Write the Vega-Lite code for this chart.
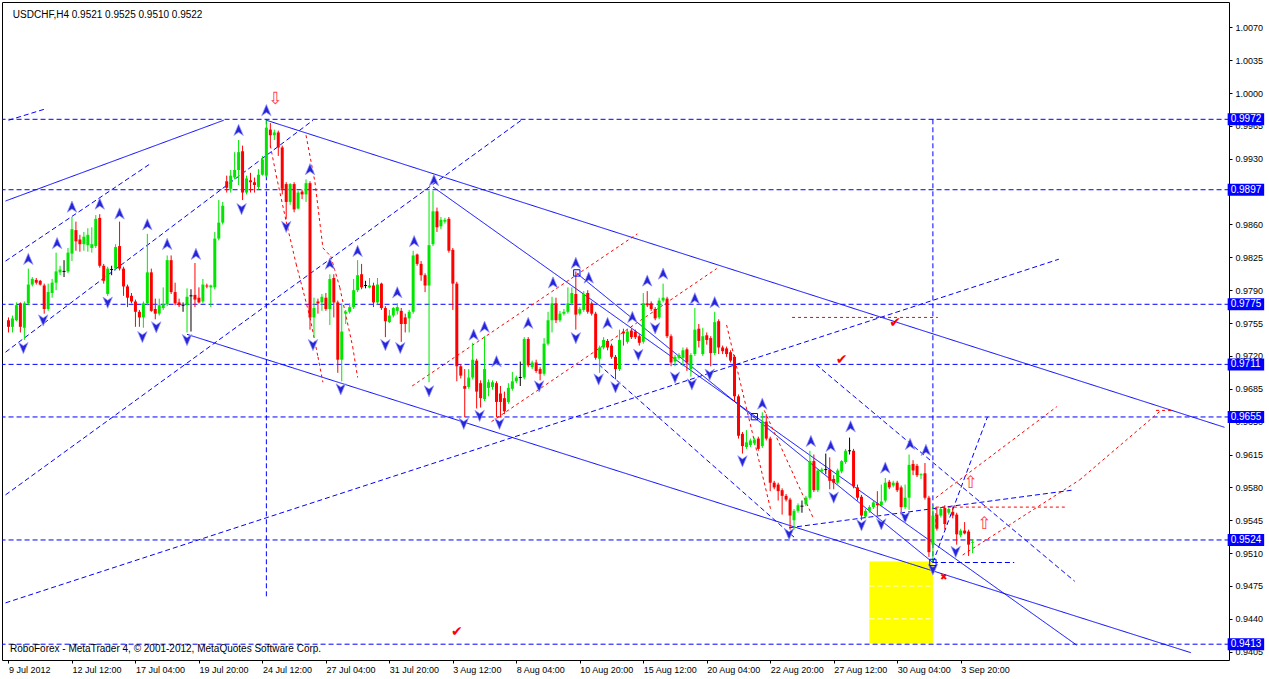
{
"$schema":"https://vega.github.io/schema/vega-lite/v6.json",
"width":1227,"height":658,
"autosize":{"type":"none"},
"padding":{"left":2,"top":2,"right":40,"bottom":19},
"background":"#ffffff",
"config":{"view":{"stroke":"#000000","strokeWidth":1},"axis":{"labelFont":"Liberation Sans","labelFontSize":9,"labelColor":"#000000","tickColor":"#000000","domain":false,"grid":false,"tickSize":3}},
"datasets":{
"candles":[
{"i":0,"o":0.9758,"h":0.9761,"l":0.9745,"c":0.9751},{"i":1,"o":0.9751,"h":0.9763,"l":0.9745,"c":0.9760},{"i":2,"o":0.9758,"h":0.9777,"l":0.9757,"c":0.9774},{"i":3,"o":0.9776,"h":0.9777,"l":0.9745,"c":0.9751},{"i":4,"o":0.9750,"h":0.9778,"l":0.9737,"c":0.9776},
{"i":5,"o":0.9776,"h":0.9813,"l":0.9774,"c":0.9796},{"i":6,"o":0.9796,"h":0.9804,"l":0.9794,"c":0.9802},{"i":7,"o":0.9801,"h":0.9803,"l":0.9796,"c":0.9798},{"i":8,"o":0.9800,"h":0.9801,"l":0.9795,"c":0.9796},{"i":9,"o":0.9795,"h":0.9797,"l":0.9765,"c":0.9770},
{"i":10,"o":0.9770,"h":0.9797,"l":0.9768,"c":0.9788},{"i":11,"o":0.9787,"h":0.9802,"l":0.9782,"c":0.9798},{"i":12,"o":0.9798,"h":0.9830,"l":0.9790,"c":0.9810},{"i":13,"o":0.9809,"h":0.9816,"l":0.9806,"c":0.9812},{"i":14,"o":0.9810,"h":0.9822,"l":0.9804,"c":0.9810},
{"i":15,"o":0.9810,"h":0.9835,"l":0.9808,"c":0.9830},{"i":16,"o":0.9829,"h":0.9868,"l":0.9821,"c":0.9855},{"i":17,"o":0.9854,"h":0.9863,"l":0.9832,"c":0.9842},{"i":18,"o":0.9844,"h":0.9849,"l":0.9831,"c":0.9839},{"i":19,"o":0.9839,"h":0.9852,"l":0.9832,"c":0.9847},
{"i":20,"o":0.9838,"h":0.9856,"l":0.9831,"c":0.9849},{"i":21,"o":0.9835,"h":0.9857,"l":0.9830,"c":0.9839},{"i":22,"o":0.9837,"h":0.9870,"l":0.9835,"c":0.9866},{"i":23,"o":0.9867,"h":0.9871,"l":0.9814,"c":0.9816},{"i":24,"o":0.9816,"h":0.9818,"l":0.9797,"c":0.9800},
{"i":25,"o":0.9786,"h":0.9815,"l":0.9784,"c":0.9813},{"i":26,"o":0.9812,"h":0.9816,"l":0.9806,"c":0.9812},{"i":27,"o":0.9813,"h":0.9839,"l":0.9811,"c":0.9836},{"i":28,"o":0.9837,"h":0.9863,"l":0.9811,"c":0.9813},{"i":29,"o":0.9813,"h":0.9815,"l":0.9784,"c":0.9794},
{"i":30,"o":0.9794,"h":0.9796,"l":0.9772,"c":0.9782},{"i":31,"o":0.9784,"h":0.9787,"l":0.9776,"c":0.9778},{"i":32,"o":0.9778,"h":0.9780,"l":0.9751,"c":0.9767},{"i":33,"o":0.9767,"h":0.9769,"l":0.9751,"c":0.9761},{"i":34,"o":0.9761,"h":0.9778,"l":0.9750,"c":0.9776},
{"i":35,"o":0.9776,"h":0.9850,"l":0.9774,"c":0.9809},{"i":36,"o":0.9809,"h":0.9813,"l":0.9767,"c":0.9768},{"i":37,"o":0.9770,"h":0.9781,"l":0.9759,"c":0.9765},{"i":38,"o":0.9765,"h":0.9781,"l":0.9763,"c":0.9774},{"i":39,"o":0.9771,"h":0.9793,"l":0.9769,"c":0.9775},
{"i":40,"o":0.9775,"h":0.9827,"l":0.9773,"c":0.9822},{"i":41,"o":0.9822,"h":0.9827,"l":0.9786,"c":0.9788},{"i":42,"o":0.9788,"h":0.9798,"l":0.9774,"c":0.9776},{"i":43,"o":0.9777,"h":0.9781,"l":0.9772,"c":0.9774},{"i":44,"o":0.9774,"h":0.9777,"l":0.9767,"c":0.9774},
{"i":45,"o":0.9774,"h":0.9792,"l":0.9745,"c":0.9783},{"i":46,"o":0.9784,"h":0.9791,"l":0.9746,"c":0.9784},{"i":47,"o":0.9785,"h":0.9819,"l":0.9772,"c":0.9780},{"i":48,"o":0.9782,"h":0.9793,"l":0.9776,"c":0.9777},{"i":49,"o":0.9778,"h":0.9802,"l":0.9776,"c":0.9796},
{"i":50,"o":0.9795,"h":0.9797,"l":0.9792,"c":0.9794},{"i":51,"o":0.9793,"h":0.9796,"l":0.9772,"c":0.9795},{"i":52,"o":0.9793,"h":0.9852,"l":0.9791,"c":0.9845},{"i":53,"o":0.9845,"h":0.9886,"l":0.9843,"c":0.9862},{"i":54,"o":0.9862,"h":0.9884,"l":0.9860,"c":0.9880},
{"i":55,"o":0.9906,"h":0.9912,"l":0.9894,"c":0.9899},{"i":56,"o":0.9898,"h":0.9918,"l":0.9894,"c":0.9912},{"i":57,"o":0.9910,"h":0.9937,"l":0.9908,"c":0.9918},{"i":58,"o":0.9918,"h":0.9950,"l":0.9902,"c":0.9937},{"i":59,"o":0.9938,"h":0.9944,"l":0.9886,"c":0.9894},
{"i":60,"o":0.9894,"h":0.9912,"l":0.9892,"c":0.9909},{"i":61,"o":0.9907,"h":0.9915,"l":0.9894,"c":0.9905},{"i":62,"o":0.9905,"h":0.9910,"l":0.9894,"c":0.9902},{"i":63,"o":0.9900,"h":0.9919,"l":0.9897,"c":0.9913},{"i":64,"o":0.9913,"h":0.9933,"l":0.9912,"c":0.9929},
{"i":65,"o":0.9912,"h":0.9971,"l":0.9910,"c":0.9963},{"i":66,"o":0.9961,"h":0.9968,"l":0.9942,"c":0.9955},{"i":67,"o":0.9955,"h":0.9961,"l":0.9950,"c":0.9958},{"i":68,"o":0.9958,"h":0.9960,"l":0.9933,"c":0.9942},{"i":69,"o":0.9942,"h":0.9944,"l":0.9892,"c":0.9898},
{"i":70,"o":0.9903,"h":0.9905,"l":0.9866,"c":0.9884},{"i":71,"o":0.9884,"h":0.9904,"l":0.9881,"c":0.9903},{"i":72,"o":0.9903,"h":0.9905,"l":0.9873,"c":0.9876},{"i":73,"o":0.9877,"h":0.9896,"l":0.9876,"c":0.9894},{"i":74,"o":0.9895,"h":0.9897,"l":0.9887,"c":0.9892},
{"i":75,"o":0.9892,"h":0.9908,"l":0.9884,"c":0.9904},{"i":76,"o":0.9904,"h":0.9906,"l":0.9748,"c":0.9761},{"i":77,"o":0.9761,"h":0.9782,"l":0.9740,"c":0.9771},{"i":78,"o":0.9778,"h":0.9781,"l":0.9765,"c":0.9776},{"i":79,"o":0.9777,"h":0.9786,"l":0.9768,"c":0.9783},
{"i":80,"o":0.9782,"h":0.9787,"l":0.9768,"c":0.9770},{"i":81,"o":0.9770,"h":0.9807,"l":0.9753,"c":0.9802},{"i":82,"o":0.9803,"h":0.9807,"l":0.9761,"c":0.9777},{"i":83,"o":0.9777,"h":0.9779,"l":0.9702,"c":0.9716},{"i":84,"o":0.9716,"h":0.9776,"l":0.9693,"c":0.9746},
{"i":85,"o":0.9765,"h":0.9769,"l":0.9754,"c":0.9767},{"i":86,"o":0.9767,"h":0.9776,"l":0.9765,"c":0.9772},{"i":87,"o":0.9772,"h":0.9802,"l":0.9770,"c":0.9790},{"i":88,"o":0.9790,"h":0.9822,"l":0.9788,"c":0.9806},{"i":89,"o":0.9807,"h":0.9818,"l":0.9791,"c":0.9793},
{"i":90,"o":0.9795,"h":0.9800,"l":0.9792,"c":0.9795},{"i":91,"o":0.9793,"h":0.9803,"l":0.9792,"c":0.9795},{"i":92,"o":0.9795,"h":0.9798,"l":0.9772,"c":0.9777},{"i":93,"o":0.9777,"h":0.9803,"l":0.9775,"c":0.9796},{"i":94,"o":0.9797,"h":0.9798,"l":0.9769,"c":0.9771},
{"i":95,"o":0.9771,"h":0.9773,"l":0.9740,"c":0.9757},{"i":96,"o":0.9756,"h":0.9769,"l":0.9755,"c":0.9763},{"i":97,"o":0.9763,"h":0.9772,"l":0.9761,"c":0.9771},{"i":98,"o":0.9768,"h":0.9776,"l":0.9764,"c":0.9772},{"i":99,"o":0.9768,"h":0.9771,"l":0.9735,"c":0.9754},
{"i":100,"o":0.9761,"h":0.9765,"l":0.9745,"c":0.9754},{"i":101,"o":0.9760,"h":0.9769,"l":0.9745,"c":0.9767},{"i":102,"o":0.9767,"h":0.9832,"l":0.9765,"c":0.9827},{"i":103,"o":0.9828,"h":0.9829,"l":0.9816,"c":0.9818},{"i":104,"o":0.9818,"h":0.9821,"l":0.9800,"c":0.9806},
{"i":105,"o":0.9806,"h":0.9808,"l":0.9788,"c":0.9795},{"i":106,"o":0.9795,"h":0.9896,"l":0.9692,"c":0.9838},{"i":107,"o":0.9839,"h":0.9896,"l":0.9837,"c":0.9874},{"i":108,"o":0.9874,"h":0.9878,"l":0.9852,"c":0.9857},{"i":109,"o":0.9858,"h":0.9868,"l":0.9855,"c":0.9865},
{"i":110,"o":0.9863,"h":0.9867,"l":0.9861,"c":0.9865},{"i":111,"o":0.9866,"h":0.9868,"l":0.9830,"c":0.9832},{"i":112,"o":0.9833,"h":0.9835,"l":0.9769,"c":0.9797},{"i":113,"o":0.9797,"h":0.9799,"l":0.9693,"c":0.9709},{"i":114,"o":0.9709,"h":0.9711,"l":0.9696,"c":0.9699},
{"i":115,"o":0.9688,"h":0.9706,"l":0.9655,"c":0.9685},{"i":116,"o":0.9687,"h":0.9706,"l":0.9685,"c":0.9697},{"i":117,"o":0.9697,"h":0.9734,"l":0.9695,"c":0.9716},{"i":118,"o":0.9715,"h":0.9717,"l":0.9664,"c":0.9682},{"i":119,"o":0.9691,"h":0.9694,"l":0.9665,"c":0.9675},
{"i":120,"o":0.9674,"h":0.9741,"l":0.9672,"c":0.9706},{"i":121,"o":0.9686,"h":0.9695,"l":0.9677,"c":0.9692},{"i":122,"o":0.9687,"h":0.9694,"l":0.9684,"c":0.9692},{"i":123,"o":0.9691,"h":0.9693,"l":0.9655,"c":0.9671},{"i":124,"o":0.9680,"h":0.9688,"l":0.9655,"c":0.9671},
{"i":125,"o":0.9675,"h":0.9682,"l":0.9658,"c":0.9661},{"i":126,"o":0.9671,"h":0.9691,"l":0.9669,"c":0.9686},{"i":127,"o":0.9685,"h":0.9703,"l":0.9683,"c":0.9693},{"i":128,"o":0.9693,"h":0.9699,"l":0.9691,"c":0.9697},{"i":129,"o":0.9697,"h":0.9714,"l":0.9688,"c":0.9697},
{"i":130,"o":0.9697,"h":0.9740,"l":0.9695,"c":0.9738},{"i":131,"o":0.9738,"h":0.9740,"l":0.9708,"c":0.9710},{"i":132,"o":0.9708,"h":0.9715,"l":0.9706,"c":0.9713},{"i":133,"o":0.9713,"h":0.9716,"l":0.9702,"c":0.9704},{"i":134,"o":0.9706,"h":0.9708,"l":0.9694,"c":0.9701},
{"i":135,"o":0.9701,"h":0.9739,"l":0.9699,"c":0.9733},{"i":136,"o":0.9733,"h":0.9767,"l":0.9731,"c":0.9758},{"i":137,"o":0.9758,"h":0.9783,"l":0.9745,"c":0.9776},{"i":138,"o":0.9776,"h":0.9782,"l":0.9755,"c":0.9758},{"i":139,"o":0.9758,"h":0.9768,"l":0.9756,"c":0.9765},
{"i":140,"o":0.9765,"h":0.9770,"l":0.9763,"c":0.9767},{"i":141,"o":0.9767,"h":0.9793,"l":0.9765,"c":0.9776},{"i":142,"o":0.9776,"h":0.9793,"l":0.9774,"c":0.9787},{"i":143,"o":0.9786,"h":0.9810,"l":0.9748,"c":0.9764},{"i":144,"o":0.9765,"h":0.9772,"l":0.9763,"c":0.9770},
{"i":145,"o":0.9769,"h":0.9789,"l":0.9767,"c":0.9786},{"i":146,"o":0.9787,"h":0.9790,"l":0.9765,"c":0.9767},{"i":147,"o":0.9776,"h":0.9778,"l":0.9763,"c":0.9765},{"i":148,"o":0.9765,"h":0.9767,"l":0.9716,"c":0.9718},{"i":149,"o":0.9717,"h":0.9731,"l":0.9702,"c":0.9729},
{"i":150,"o":0.9729,"h":0.9740,"l":0.9727,"c":0.9737},{"i":151,"o":0.9736,"h":0.9738,"l":0.9726,"c":0.9729},{"i":152,"o":0.9731,"h":0.9733,"l":0.9717,"c":0.9719},{"i":153,"o":0.9719,"h":0.9721,"l":0.9695,"c":0.9706},{"i":154,"o":0.9706,"h":0.9748,"l":0.9704,"c":0.9737},
{"i":155,"o":0.9746,"h":0.9749,"l":0.9731,"c":0.9744},{"i":156,"o":0.9735,"h":0.9748,"l":0.9733,"c":0.9746},{"i":157,"o":0.9747,"h":0.9749,"l":0.9738,"c":0.9740},{"i":158,"o":0.9746,"h":0.9748,"l":0.9738,"c":0.9740},{"i":159,"o":0.9741,"h":0.9743,"l":0.9731,"c":0.9734},
{"i":160,"o":0.9735,"h":0.9787,"l":0.9733,"c":0.9776},{"i":161,"o":0.9776,"h":0.9789,"l":0.9772,"c":0.9774},{"i":162,"o":0.9776,"h":0.9778,"l":0.9768,"c":0.9770},{"i":163,"o":0.9770,"h":0.9772,"l":0.9758,"c":0.9760},{"i":164,"o":0.9761,"h":0.9782,"l":0.9759,"c":0.9779},
{"i":165,"o":0.9779,"h":0.9797,"l":0.9777,"c":0.9782},{"i":166,"o":0.9781,"h":0.9783,"l":0.9739,"c":0.9741},{"i":167,"o":0.9741,"h":0.9743,"l":0.9709,"c":0.9713},{"i":168,"o":0.9714,"h":0.9721,"l":0.9709,"c":0.9719},{"i":169,"o":0.9718,"h":0.9723,"l":0.9716,"c":0.9721},
{"i":170,"o":0.9718,"h":0.9729,"l":0.9709,"c":0.9726},{"i":171,"o":0.9727,"h":0.9729,"l":0.9704,"c":0.9713},{"i":172,"o":0.9706,"h":0.9723,"l":0.9698,"c":0.9721},{"i":173,"o":0.9722,"h":0.9771,"l":0.9720,"c":0.9748},{"i":174,"o":0.9749,"h":0.9754,"l":0.9729,"c":0.9736},
{"i":175,"o":0.9722,"h":0.9750,"l":0.9720,"c":0.9741},{"i":176,"o":0.9742,"h":0.9745,"l":0.9732,"c":0.9737},{"i":177,"o":0.9739,"h":0.9741,"l":0.9709,"c":0.9723},{"i":178,"o":0.9723,"h":0.9767,"l":0.9721,"c":0.9756},{"i":179,"o":0.9757,"h":0.9759,"l":0.9722,"c":0.9729},
{"i":180,"o":0.9729,"h":0.9731,"l":0.9722,"c":0.9725},{"i":181,"o":0.9728,"h":0.9730,"l":0.9719,"c":0.9722},{"i":182,"o":0.9724,"h":0.9726,"l":0.9713,"c":0.9715},{"i":183,"o":0.9719,"h":0.9721,"l":0.9672,"c":0.9677},{"i":184,"o":0.9677,"h":0.9679,"l":0.9632,"c":0.9635},
{"i":185,"o":0.9637,"h":0.9639,"l":0.9616,"c":0.9624},{"i":186,"o":0.9623,"h":0.9641,"l":0.9621,"c":0.9628},{"i":187,"o":0.9625,"h":0.9632,"l":0.9623,"c":0.9630},{"i":188,"o":0.9627,"h":0.9633,"l":0.9625,"c":0.9631},{"i":189,"o":0.9632,"h":0.9634,"l":0.9619,"c":0.9621},
{"i":190,"o":0.9624,"h":0.9660,"l":0.9622,"c":0.9650},{"i":191,"o":0.9650,"h":0.9658,"l":0.9630,"c":0.9632},{"i":192,"o":0.9632,"h":0.9634,"l":0.9576,"c":0.9585},{"i":193,"o":0.9585,"h":0.9587,"l":0.9578,"c":0.9580},{"i":194,"o":0.9583,"h":0.9585,"l":0.9566,"c":0.9576},
{"i":195,"o":0.9577,"h":0.9579,"l":0.9551,"c":0.9571},{"i":196,"o":0.9571,"h":0.9573,"l":0.9565,"c":0.9567},{"i":197,"o":0.9567,"h":0.9569,"l":0.9535,"c":0.9550},{"i":198,"o":0.9545,"h":0.9557,"l":0.9535,"c":0.9555},{"i":199,"o":0.9555,"h":0.9563,"l":0.9553,"c":0.9561},
{"i":200,"o":0.9560,"h":0.9566,"l":0.9553,"c":0.9560},{"i":201,"o":0.9562,"h":0.9571,"l":0.9560,"c":0.9569},{"i":202,"o":0.9569,"h":0.9619,"l":0.9567,"c":0.9608},{"i":203,"o":0.9608,"h":0.9615,"l":0.9575,"c":0.9577},{"i":204,"o":0.9577,"h":0.9600,"l":0.9575,"c":0.9598},
{"i":205,"o":0.9597,"h":0.9601,"l":0.9595,"c":0.9599},{"i":206,"o":0.9599,"h":0.9616,"l":0.9594,"c":0.9599},{"i":207,"o":0.9599,"h":0.9612,"l":0.9578,"c":0.9587},{"i":208,"o":0.9589,"h":0.9593,"l":0.9578,"c":0.9585},{"i":209,"o":0.9585,"h":0.9600,"l":0.9583,"c":0.9598},
{"i":210,"o":0.9597,"h":0.9609,"l":0.9595,"c":0.9608},{"i":211,"o":0.9607,"h":0.9621,"l":0.9605,"c":0.9619},{"i":212,"o":0.9619,"h":0.9633,"l":0.9615,"c":0.9619},{"i":213,"o":0.9619,"h":0.9621,"l":0.9579,"c":0.9581},{"i":214,"o":0.9580,"h":0.9583,"l":0.9566,"c":0.9569},
{"i":215,"o":0.9570,"h":0.9572,"l":0.9545,"c":0.9550},{"i":216,"o":0.9549,"h":0.9557,"l":0.9547,"c":0.9555},{"i":217,"o":0.9555,"h":0.9561,"l":0.9553,"c":0.9559},{"i":218,"o":0.9559,"h":0.9566,"l":0.9557,"c":0.9564},{"i":219,"o":0.9563,"h":0.9576,"l":0.9550,"c":0.9561},
{"i":220,"o":0.9561,"h":0.9583,"l":0.9559,"c":0.9565},{"i":221,"o":0.9566,"h":0.9590,"l":0.9564,"c":0.9585},{"i":222,"o":0.9586,"h":0.9588,"l":0.9578,"c":0.9580},{"i":223,"o":0.9582,"h":0.9587,"l":0.9580,"c":0.9585},{"i":224,"o":0.9585,"h":0.9587,"l":0.9575,"c":0.9577},
{"i":225,"o":0.9580,"h":0.9582,"l":0.9551,"c":0.9559},{"i":226,"o":0.9559,"h":0.9583,"l":0.9557,"c":0.9569},{"i":227,"o":0.9569,"h":0.9615,"l":0.9556,"c":0.9604},{"i":228,"o":0.9605,"h":0.9609,"l":0.9593,"c":0.9598},{"i":229,"o":0.9603,"h":0.9605,"l":0.9591,"c":0.9593},
{"i":230,"o":0.9593,"h":0.9595,"l":0.9589,"c":0.9594},{"i":231,"o":0.9595,"h":0.9606,"l":0.9567,"c":0.9569},{"i":232,"o":0.9569,"h":0.9571,"l":0.9506,"c":0.9511},{"i":233,"o":0.9519,"h":0.9561,"l":0.9501,"c":0.9550},{"i":234,"o":0.9551,"h":0.9558,"l":0.9534,"c":0.9536},
{"i":235,"o":0.9550,"h":0.9559,"l":0.9548,"c":0.9557},{"i":236,"o":0.9558,"h":0.9561,"l":0.9535,"c":0.9541},{"i":237,"o":0.9553,"h":0.9559,"l":0.9551,"c":0.9557},{"i":238,"o":0.9554,"h":0.9559,"l":0.9547,"c":0.9550},{"i":239,"o":0.9551,"h":0.9553,"l":0.9519,"c":0.9530},
{"i":240,"o":0.9529,"h":0.9536,"l":0.9527,"c":0.9534},{"i":241,"o":0.9534,"h":0.9543,"l":0.9530,"c":0.9531},{"i":242,"o":0.9533,"h":0.9535,"l":0.9507,"c":0.9519},{"i":243,"o":0.9521,"h":0.9525,"l":0.9510,"c":0.9522}
],
"lines":[
{"i":-2,"p":0.9972,"i2":308,"p2":0.9972,"k":"bd"},{"i":-2,"p":0.9897,"i2":308,"p2":0.9897,"k":"bd"},{"i":-2,"p":0.9775,"i2":308,"p2":0.9775,"k":"bd"},{"i":-2,"p":0.9711,"i2":308,"p2":0.9711,"k":"bd"},{"i":-2,"p":0.9655,"i2":308,"p2":0.9655,"k":"bd"},{"i":-2,"p":0.9524,"i2":308,"p2":0.9524,"k":"bd"},{"i":-2,"p":0.9413,"i2":308,"p2":0.9413,"k":"bd"},
{"i":65,"p":0.9972,"i2":65,"p2":0.9464,"k":"bd"},{"i":233,"p":0.9972,"i2":233,"p2":0.9500,"k":"bd"},
{"i":-0.75,"p":0.9885,"i2":54.25,"p2":0.9971,"k":"bs"},{"i":65,"p":0.9971,"i2":306.5,"p2":0.9644,"k":"bs"},{"i":107,"p":0.9900,"i2":269.25,"p2":0.9412,"k":"bs"},{"i":143.25,"p":0.9808,"i2":233,"p2":0.9500,"k":"bs"},{"i":45,"p":0.9743,"i2":298,"p2":0.9404,"k":"bs"},
{"i":-0.75,"p":0.9572,"i2":129.25,"p2":0.9971,"k":"bd"},{"i":-0.75,"p":0.9821,"i2":35.5,"p2":0.9924,"k":"bd"},{"i":-0.75,"p":0.9724,"i2":76.75,"p2":0.9971,"k":"bd"},{"i":0,"p":0.9971,"i2":9.25,"p2":0.9983,"k":"bd"},
{"i":-0.75,"p":0.9457,"i2":264.75,"p2":0.9823,"k":"bd"},{"i":148.75,"p":0.9711,"i2":198,"p2":0.9527,"k":"bd"},{"i":203.5,"p":0.9711,"i2":268.75,"p2":0.9480,"k":"bd"},{"i":196.75,"p":0.9537,"i2":268,"p2":0.9577,"k":"bd"},{"i":233,"p":0.9500,"i2":253.5,"p2":0.9500,"k":"bd"},{"i":233,"p":0.9500,"i2":246.75,"p2":0.9655,"k":"bd"},
{"i":66,"p":0.9944,"i2":67.5,"p2":0.9912,"k":"rd"},{"i":67.5,"p":0.9912,"i2":70,"p2":0.9863,"k":"rd"},{"i":70,"p":0.9863,"i2":72.5,"p2":0.9818,"k":"rd"},{"i":72.5,"p":0.9818,"i2":76,"p2":0.9761,"k":"rd"},{"i":76,"p":0.9761,"i2":78,"p2":0.9719,"k":"rd"},{"i":78,"p":0.9719,"i2":79.25,"p2":0.9692,"k":"rd"},
{"i":75,"p":0.9955,"i2":77.25,"p2":0.9905,"k":"rd"},{"i":77.25,"p":0.9905,"i2":79.25,"p2":0.9835,"k":"rd"},{"i":79.25,"p":0.9835,"i2":81.25,"p2":0.9826,"k":"rd"},{"i":81.25,"p":0.9826,"i2":83.5,"p2":0.9793,"k":"rd"},{"i":83.5,"p":0.9793,"i2":86.75,"p2":0.9730,"k":"rd"},{"i":86.75,"p":0.9730,"i2":88,"p2":0.9697,"k":"rd"},
{"i":101.75,"p":0.9688,"i2":158.5,"p2":0.9850,"k":"rd"},{"i":121.75,"p":0.9650,"i2":178.5,"p2":0.9813,"k":"rd"},{"i":181,"p":0.9753,"i2":192.25,"p2":0.9554,"k":"rd"},{"i":190.5,"p":0.9662,"i2":203,"p2":0.9546,"k":"rd"},
{"i":197.5,"p":0.9761,"i2":234.25,"p2":0.9761,"k":"rd"},{"i":233.75,"p":0.9569,"i2":264.25,"p2":0.9666,"k":"rd"},{"i":240.5,"p":0.9508,"i2":270,"p2":0.9588,"k":"rd"},{"i":270,"p":0.9588,"i2":290.5,"p2":0.9662,"k":"rd"},{"i":289.25,"p":0.9662,"i2":293.75,"p2":0.9662,"k":"rd"},
{"i":233.75,"p":0.9559,"i2":266.25,"p2":0.9559,"k":"rd"},{"i":233.75,"p":0.9559,"i2":233.75,"p2":0.9538,"k":"rd"},
{"i":217,"p":0.9475,"i2":233,"p2":0.9475,"k":"wd"},{"i":217,"p":0.9440,"i2":233,"p2":0.9440,"k":"wd"}
],
"up":[
{"i":5,"p":0.98231},{"i":12.25,"p":0.98399},{"i":16,"p":0.98787},{"i":23,"p":0.98818},{"i":28,"p":0.98714},{"i":35,"p":0.98598},{"i":40,"p":0.98389},{"i":47.25,"p":0.98284},{"i":58,"p":0.99605},{"i":65,"p":0.99815},{"i":76,"p":0.99186},{"i":81,"p":0.98179},{"i":88,"p":0.98315},{"i":98,"p":0.97875},{"i":102.25,"p":0.9842},{"i":107.25,"p":0.9907},{"i":117.25,"p":0.97424},{"i":120,"p":0.97508},{"i":123,"p":0.97141},{"i":131,"p":0.97549},{"i":137.25,"p":0.97979},{"i":143,"p":0.98189},{"i":146.25,"p":0.98032},{"i":151,"p":0.97549},{"i":157.25,"p":0.97612},{"i":161,"p":0.98},{"i":165,"p":0.98074},{"i":173,"p":0.97811},{"i":178,"p":0.97769},{"i":190,"p":0.96689},{"i":202.25,"p":0.96291},{"i":207.25,"p":0.96238},{"i":212.25,"p":0.96448},{"i":221,"p":0.96008},{"i":227.25,"p":0.96259},{"i":231.25,"p":0.96196}
],
"dn":[
{"i":3.75,"p":0.97287},{"i":8.75,"p":0.97581},{"i":25,"p":0.9777},{"i":33.75,"p":0.97403},{"i":37.25,"p":0.97508},{"i":45,"p":0.97371},{"i":58.75,"p":0.98766},{"i":70,"p":0.98577},{"i":76.75,"p":0.97319},{"i":83.75,"p":0.96847},{"i":95,"p":0.97319},{"i":98.75,"p":0.97287},{"i":106,"p":0.96826},{"i":114.75,"p":0.9648},{"i":118.75,"p":0.96564},{"i":123.75,"p":0.9648},{"i":133.75,"p":0.96878},{"i":143,"p":0.97392},{"i":148.75,"p":0.96952},{"i":153,"p":0.96868},{"i":158.75,"p":0.97214},{"i":163,"p":0.97497},{"i":168,"p":0.96973},{"i":172.25,"p":0.96899},{"i":176.75,"p":0.97004},{"i":185,"p":0.96081},{"i":196.75,"p":0.95305},{"i":208,"p":0.95693},{"i":215,"p":0.95399},{"i":220,"p":0.9541},{"i":226,"p":0.95483},{"i":233,"p":0.94927},{"i":238.75,"p":0.95116}
],
"boxes":[{"i":143.25,"p":0.98084},{"i":188,"p":0.96553},{"i":233,"p":0.95001}],
"redarrows":[{"i":67.25,"p":0.99941,"g":"⇩"},{"i":242.5,"p":0.95851,"g":"⇧"},{"i":246,"p":0.9541,"g":"⇧"}],
"checks":[{"i":113,"p":0.94257,"g":"✔"},{"i":210,"p":0.97161,"g":"✔"},{"i":223.5,"p":0.97549,"g":"✔"}],
"crosses":[{"i":235.75,"p":0.94844,"g":"✖"}],
"levels":[{"i":307.3,"i2":316.5,"p":0.9972,"lbl":"0.9972"},{"i":307.3,"i2":316.5,"p":0.9897,"lbl":"0.9897"},{"i":307.3,"i2":316.5,"p":0.9775,"lbl":"0.9775"},{"i":307.3,"i2":316.5,"p":0.9711,"lbl":"0.9711"},{"i":307.3,"i2":316.5,"p":0.9655,"lbl":"0.9655"},{"i":307.3,"i2":316.5,"p":0.9524,"lbl":"0.9524"},{"i":307.3,"i2":316.5,"p":0.9413,"lbl":"0.9413"}],
"notes":[{"i":1.1,"p":1.0083,"t":"USDCHF,H4  0.9521 0.9525 0.9510 0.9522"},{"i":0.4,"p":0.9408,"t":"RoboForex - MetaTrader 4, © 2001-2012, MetaQuotes Software Corp."}]
},
"encoding":{
"x":{"field":"i","type":"quantitative","title":null,"scale":{"domain":[-0.375,306.375],"nice":false,"zero":false},
"axis":{"values":[0,16,32,48,64,80,96,112,128,144,160,176,192,208,224,240],"labelAlign":"left","labelPadding":2,"labelOverlap":false,"labelFlush":false,"labelBound":false,
"labelExpr":"['9 Jul 2012','12 Jul 12:00','17 Jul 04:00','19 Jul 20:00','24 Jul 12:00','27 Jul 04:00','31 Jul 20:00','3 Aug 12:00','8 Aug 04:00','10 Aug 20:00','15 Aug 12:00','20 Aug 04:00','22 Aug 20:00','27 Aug 12:00','30 Aug 04:00','3 Sep 20:00'][round(datum.value/16)]"}},
"y":{"field":"p","type":"quantitative","title":null,"scale":{"domain":[0.94015,1.00916],"nice":false,"zero":false},
"axis":{"orient":"right","values":[0.9405,0.944,0.9475,0.951,0.9545,0.958,0.9615,0.965,0.9685,0.972,0.9755,0.979,0.9825,0.986,0.9895,0.993,0.9965,1.0,1.0035,1.007],"format":".4f","labelPadding":3,"labelOverlap":false,"labelFlush":false}}
},
"layer":[
{"data":{"values":[{"i":217,"i2":233,"p":0.9414,"p2":0.9501}]},"mark":{"type":"rect","color":"#ffff00"},"encoding":{"x2":{"field":"i2"},"y2":{"field":"p2"}}},
{"data":{"name":"lines"},"mark":{"type":"rule","clip":true,"strokeWidth":1},"encoding":{"x2":{"field":"i2"},"y2":{"field":"p2"},
"color":{"field":"k","type":"nominal","scale":{"domain":["bs","bd","rd","wd"],"range":["#0000ff","#0000ff","#ff0000","#ffffff"]},"legend":null},
"strokeDash":{"field":"k","type":"nominal","scale":{"domain":["bs","bd","rd","wd"],"range":[[1,0],[5,3],[3,3],[5,3]]},"legend":null}}},
{"data":{"name":"candles"},"mark":{"type":"rule","strokeWidth":1},"encoding":{"y":{"field":"l","type":"quantitative","title":null},"y2":{"field":"h"},
"color":{"condition":[{"test":"datum.c > datum.o","value":"#00e600"},{"test":"datum.c == datum.o","value":"#000000"}],"value":"#ff0000"}}},
{"data":{"name":"candles"},"mark":{"type":"bar","size":3},"encoding":{"y":{"field":"o","type":"quantitative","title":null},"y2":{"field":"c"},
"color":{"condition":[{"test":"datum.c > datum.o","value":"#00e600"},{"test":"datum.c == datum.o","value":"#000000"}],"value":"#ff0000"}}},
{"data":{"name":"candles"},"transform":[{"filter":"datum.o == datum.c"}],"mark":{"type":"point","shape":"M-1,0L1,0","filled":false,"stroke":"#000000","strokeWidth":1,"size":9,"opacity":1},"encoding":{"y":{"field":"c","type":"quantitative","title":null}}},
{"data":{"name":"up"},"mark":{"type":"point","shape":"M0,-1L0.8,0.9L0,0.35L-0.8,0.9Z","filled":true,"fill":"#2626d8","stroke":"#9a9aff","strokeWidth":0.7,"size":140,"opacity":1}},
{"data":{"name":"dn"},"mark":{"type":"point","shape":"M0,1L0.8,-0.9L0,-0.35L-0.8,-0.9Z","filled":true,"fill":"#2626d8","stroke":"#9a9aff","strokeWidth":0.7,"size":140,"opacity":1}},
{"data":{"name":"boxes"},"mark":{"type":"point","shape":"square","filled":false,"stroke":"#0000ff","strokeWidth":1,"size":40,"opacity":1}},
{"data":{"name":"redarrows"},"mark":{"type":"text","font":"DejaVu Sans","fontSize":17,"color":"#ff4040","baseline":"middle","align":"center"},"encoding":{"text":{"field":"g"}}},
{"data":{"name":"checks"},"mark":{"type":"text","font":"DejaVu Sans","fontSize":14,"color":"#ff0000","baseline":"middle","align":"center"},"encoding":{"text":{"field":"g"}}},
{"data":{"name":"crosses"},"mark":{"type":"text","font":"DejaVu Sans","fontSize":9,"color":"#ff0000","baseline":"middle","align":"center"},"encoding":{"text":{"field":"g"}}},
{"data":{"name":"levels"},"mark":{"type":"bar","orient":"horizontal","size":12,"color":"#0000ff"},"encoding":{"x2":{"field":"i2"}}},
{"data":{"name":"levels"},"mark":{"type":"text","font":"Liberation Sans","fontSize":10,"color":"#ffffff","align":"left","baseline":"middle","dx":3},"encoding":{"text":{"field":"lbl"}}},
{"data":{"name":"notes"},"mark":{"type":"text","font":"Liberation Sans","fontSize":10,"color":"#000000","align":"left","baseline":"middle"},"encoding":{"text":{"field":"t"}}}
]
}
